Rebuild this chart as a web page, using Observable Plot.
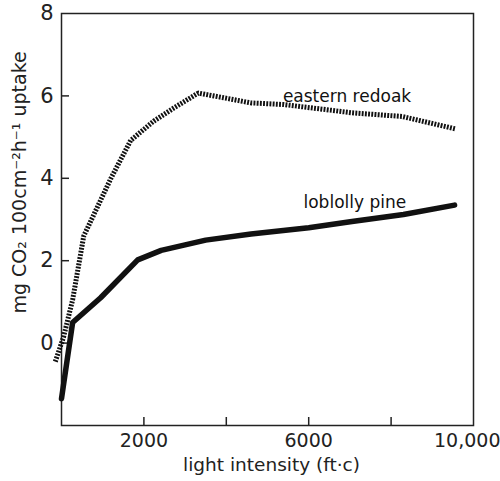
<!DOCTYPE html>
<html>
<head>
<meta charset="utf-8">
<script src="https://cdn.jsdelivr.net/npm/d3@7"></script>
<script src="https://cdn.jsdelivr.net/npm/@observablehq/plot@0.6"></script>
<style>
  html, body { margin: 0; padding: 0; background: #fff; }
  svg { font-family: "DejaVu Sans", sans-serif; }
</style>
</head>
<body>
<div id="chart"></div>
<script>
// light intensity (ft-c) and CO2 uptake
const oakX = [-150, 50, 270, 540, 1200, 1680, 2240, 2730, 3320, 4600, 5400, 7050, 8270, 9560];
const oakY = [-0.45, 0.15, 1.05, 2.6, 4.0, 4.92, 5.39, 5.71, 6.07, 5.83, 5.79, 5.59, 5.5, 5.2];
const pineX = [0, 270, 950, 1850, 2420, 3500, 4600, 6000, 7050, 8300, 9540];
const pineY = [-1.35, 0.5, 1.1, 2.02, 2.25, 2.5, 2.65, 2.8, 2.95, 3.12, 3.35];
const xTicks = [2000, 4000, 6000, 8000];
const xLabels = [2000, 6000];
const xLabelsEnd = [10000];
const yTicks = [0, 2, 4, 6];
const yLabels = [0, 2, 4, 6, 8];
const seriesLabels = ["eastern redoak", "loblolly pine"];
const labelX = [6930, 7120];
const labelY = [5.98, 3.4];
const yTitle = "mg CO₂ 100cm⁻²h⁻¹ uptake";
const xTitle = "light intensity (ft·c)";
const yTitlePos = {x: -1020, y: 3.9};

const oak = oakX.map((x, i) => ({x, y: oakY[i]}));
const pine = pineX.map((x, i) => ({x, y: pineY[i]}));
const labels = seriesLabels.map((t, i) => ({t, x: labelX[i], y: labelY[i]}));

const W = 500, H = 481, mL = 61, mR = 27, mT = 13, mB = 56;
const innerW = W - mL - mR, innerH = H - mT - mB;

const chart = Plot.plot({
  width: W, height: H,
  marginLeft: mL, marginRight: mR, marginTop: mT, marginBottom: mB,
  x: {domain: [0, 10000]},
  y: {domain: [-2, 8]},
  style: {fontFamily: "DejaVu Sans, sans-serif", color: "#111", background: "#fff"},
  marks: [
    Plot.frame({stroke: "#222", strokeWidth: 1.5}),
    Plot.tickX(xTicks, {x: d => d, insetTop: innerH - 8, stroke: "#222", strokeWidth: 1.5}),
    Plot.tickY(yTicks, {y: d => d, insetRight: innerW - 8, stroke: "#222", strokeWidth: 1.5}),
    Plot.axisX(xLabels, {tickSize: 0, tickPadding: 8, fontSize: 19, fill: "#222", label: null,
      tickFormat: d => String(d)}),
    Plot.axisX(xLabelsEnd, {tickSize: 0, tickPadding: 8, fontSize: 19, fill: "#222", label: null,
      tickFormat: d3.format(","), textAnchor: "end", dx: 27}),
    Plot.axisY(yLabels, {tickSize: 0, tickPadding: 8, fontSize: 21, fill: "#222", label: null}),
    Plot.text([xTitle], {frameAnchor: "bottom", dx: 4, dy: 45, fontSize: 18.5, fill: "#222"}),
    Plot.text([yTitle], {x: yTitlePos.x, y: yTitlePos.y, rotate: -90, fontSize: 19, fill: "#222", clip: false}),
    Plot.line(oak, {x: "x", y: "y", stroke: "#111", strokeWidth: 5, strokeDasharray: "1.9,1.3",
      strokeLinecap: "butt", strokeLinejoin: "miter", clip: false}),
    Plot.line(pine, {x: "x", y: "y", stroke: "#111", strokeWidth: 5.5, strokeLinejoin: "round"}),
    Plot.text(labels, {x: "x", y: "y", text: "t", fontSize: 17, fill: "#111"})
  ]
});
document.getElementById("chart").appendChild(chart);
</script>
</body>
</html>
